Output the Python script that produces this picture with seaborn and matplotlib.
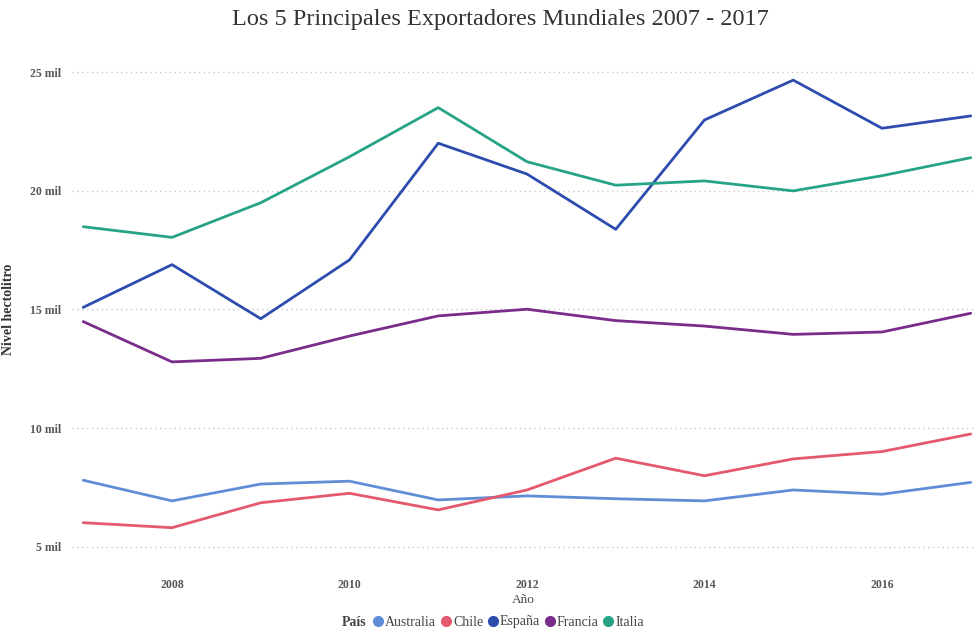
import numpy as np
import pandas as pd
import matplotlib
matplotlib.use("Agg")
import matplotlib.pyplot as plt
from matplotlib.lines import Line2D
from matplotlib.ticker import FuncFormatter
import seaborn as sns

# Exportaciones anuales (hectolitros)
years = list(range(2007, 2018))
australia = [7800, 6930, 7640, 7760, 6970, 7140, 7020, 6930, 7390, 7210, 7710]
chile = [6010, 5800, 6850, 7250, 6550, 7390, 8730, 7990, 8700, 9010, 9750]
espana = [15090, 16890, 14610, 17090, 22010, 20710, 18380, 22990, 24670, 22640, 23160]
francia = [14490, 12790, 12940, 13880, 14730, 15010, 14530, 14300, 13950, 14050, 14840]
italia = [18490, 18040, 19500, 21440, 23510, 21230, 20240, 20420, 20000, 20640, 21400]

countries = ["Australia", "Chile", "España", "Francia", "Italia"]
series = [australia, chile, espana, francia, italia]
colors = ["#5F8DD6", "#E5596F", "#2D4CAE", "#7A2C8B", "#27A487"]

y_ticks = [5000, 10000, 15000, 20000, 25000]
x_ticks = [2008, 2010, 2012, 2014, 2016]

df = pd.DataFrame({
    "Año": np.tile(years, len(countries)),
    "País": np.repeat(countries, len(years)),
    "Nivel hectolitro": np.concatenate(series),
})

sns.set_theme(style="white")
plt.rcParams["font.family"] = ["Liberation Serif", "DejaVu Serif"]

fig = plt.figure(figsize=(9.74, 6.29), dpi=100)
ax = fig.add_axes([72 / 974, 1 - 568 / 629, (974 - 72) / 974, (568 - 50) / 629])

sns.lineplot(data=df, x="Año", y="Nivel hectolitro", hue="País",
             palette=dict(zip(countries, colors)), linewidth=2.0,
             legend=False, ax=ax)

ax.set_xlim(2007 - 11.25 / 88.75, 2017 + 3.25 / 88.75)
ax.set_ylim(4100, 25940)
ax.set_xticks(x_ticks)
ax.set_yticks(y_ticks)
ax.yaxis.set_major_formatter(FuncFormatter(lambda v, p: f"{v / 1000:.0f} mil"))
ax.grid(axis="y", color="#C8C8C8", linestyle=(0, (1, 2.5)), linewidth=1.0)
ax.grid(axis="x", visible=False)
for s in ax.spines.values():
    s.set_visible(False)
ax.tick_params(axis="both", length=0, labelsize=8.5, colors="#555555")
ax.tick_params(axis="x", pad=8)
ax.tick_params(axis="y", pad=8)
for lab in ax.get_xticklabels() + ax.get_yticklabels():
    lab.set_fontweight("bold")

ax.set_xlabel("Año", fontsize=9.5, color="#444444", labelpad=2)
ax.set_ylabel("Nivel hectolitro", fontsize=10, color="#333333", fontweight="bold")
ax.yaxis.set_label_coords((15 - 72) / 902, 0.5)

fig.text(500 / 974, 1 - 19 / 629, "Los 5 Principales Exportadores Mundiales 2007 - 2017",
         ha="center", va="center", fontsize=17.5, color="#333333")

# Leyenda inferior
handles = [Line2D([], [], marker="o", linestyle="none", markersize=7,
                  markerfacecolor=c, markeredgecolor=c) for c in colors]
fig.text(342 / 974, 1 - 622 / 629, "País", ha="left", va="center",
         fontsize=10, fontweight="bold", color="#444444")
fig.legend(handles, countries, loc="center left", ncol=5,
           bbox_to_anchor=(370 / 974, 1 - 622 / 629), frameon=False,
           handletextpad=-0.1, columnspacing=0.1, handlelength=1.2,
           prop={"size": 10}, labelcolor="#444444", borderaxespad=0, borderpad=0)

fig.savefig("out.png", dpi=100)
